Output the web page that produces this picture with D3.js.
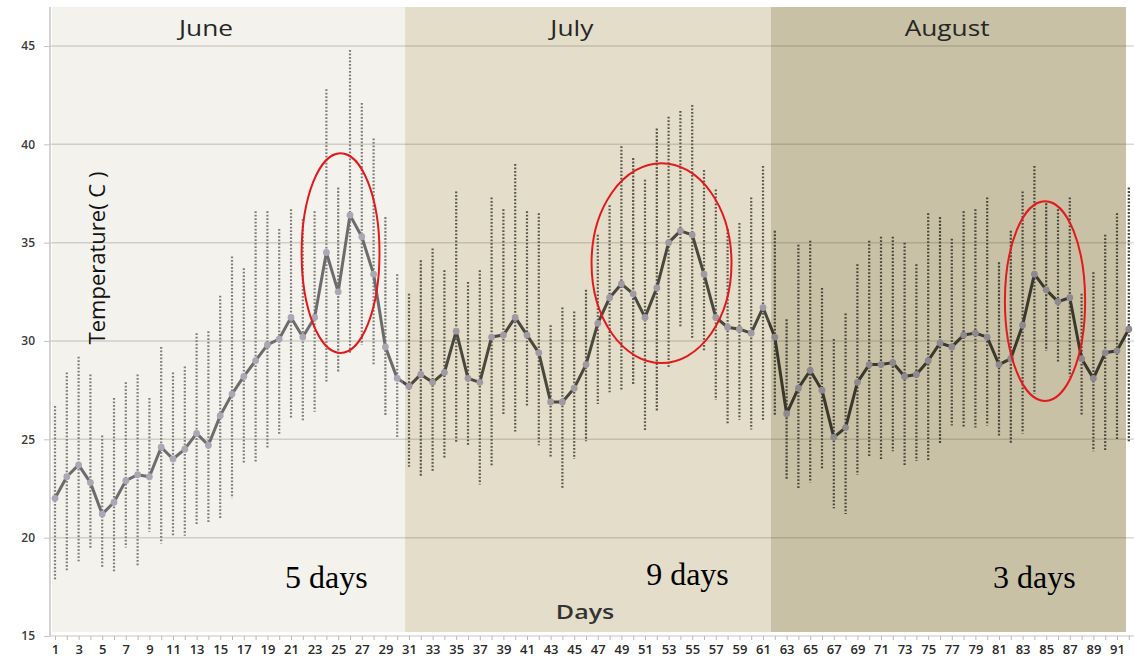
<!DOCTYPE html>
<html>
<head>
<meta charset="utf-8">
<script src="https://cdn.jsdelivr.net/npm/d3@7"></script>
<style>
  body { margin: 0; background: #fff; }
  svg { display: block; }
</style>
</head>
<body>
<script>
// daily values (days 1..92, June to August)
const days = d3.range(1, 93);
const meanTemp = [
  22.0, 23.1, 23.7, 22.8, 21.2, 21.8, 22.9, 23.2, 23.1, 24.6,
  24.0, 24.5, 25.3, 24.7, 26.2, 27.3, 28.2, 29.0, 29.8, 30.1,
  31.2, 30.2, 31.2, 34.5, 32.5, 36.4, 35.3, 33.4, 29.7, 28.1,
  27.7, 28.3, 27.9, 28.4, 30.5, 28.1, 27.9, 30.2, 30.3, 31.2,
  30.3, 29.4, 26.9, 26.9, 27.6, 28.8, 30.9, 32.2, 32.9, 32.4,
  31.2, 32.7, 35.0, 35.6, 35.4, 33.4, 31.2, 30.7, 30.6, 30.4,
  31.7, 30.2, 26.3, 27.6, 28.5, 27.5, 25.1, 25.6, 27.9, 28.8,
  28.8, 28.9, 28.2, 28.3, 29.0, 29.9, 29.7, 30.3, 30.4, 30.2,
  28.8, 29.1, 30.8, 33.4, 32.6, 32.0, 32.2, 29.1, 28.1, 29.4,
  29.5, 30.6
];
const maxTemp = [
  26.7, 28.4, 29.2, 28.3, 25.2, 27.1, 27.9, 28.3, 27.1, 29.7,
  28.4, 28.7, 30.4, 30.5, 32.3, 34.3, 33.7, 36.6, 36.6, 35.7,
  36.7, 36.2, 36.6, 42.8, 37.8, 44.8, 42.1, 40.3, 36.3, 33.4,
  32.4, 34.1, 34.7, 33.6, 37.6, 33.0, 33.6, 37.3, 36.7, 39.0,
  36.6, 36.5, 30.8, 31.7, 31.5, 32.6, 35.4, 36.9, 39.9, 39.3,
  38.2, 40.8, 41.4, 41.7, 42.0, 38.7, 37.7, 35.7, 36.0, 37.3,
  38.9, 35.6, 31.1, 34.9, 35.1, 32.7, 30.1, 31.4, 33.9, 35.1,
  35.3, 35.3, 35.0, 33.9, 36.5, 36.3, 35.2, 36.6, 36.7, 37.3,
  34.0, 35.6, 37.6, 38.9, 37.0, 36.7, 37.3, 32.4, 33.5, 35.4,
  36.5, 37.8
];
const minTemp = [
  17.8, 18.3, 18.8, 19.4, 18.5, 18.2, 19.5, 18.6, 20.3, 19.7,
  20.1, 20.1, 20.7, 20.8, 21.0, 22.0, 23.8, 23.8, 24.5, 25.2,
  26.1, 25.9, 26.4, 27.9, 28.4, 29.4, 29.8, 28.8, 26.2, 25.1,
  23.6, 23.1, 23.4, 24.0, 24.8, 24.7, 22.7, 23.6, 26.2, 25.4,
  26.7, 24.7, 24.1, 22.5, 24.0, 24.9, 26.8, 27.4, 27.5, 27.8,
  25.4, 26.4, 28.6, 30.7, 30.1, 29.5, 27.0, 25.8, 26.0, 25.5,
  26.0, 26.2, 23.0, 22.5, 22.8, 23.5, 21.5, 21.2, 23.2, 24.1,
  24.0, 24.4, 23.7, 23.9, 23.9, 24.8, 25.7, 25.6, 25.6, 25.7,
  25.2, 24.8, 25.3, 27.3, 29.5, 28.9, 28.2, 26.2, 24.4, 24.4,
  25.0, 24.9
];

const monthNames = ["June", "July", "August"];
const monthFirstDay = [1, 31, 62];
const monthLastDay = [30, 61, 92];
const monthLabelDay = [13.8, 44.8, 76.6];

const yTicks = [15, 20, 25, 30, 35, 40, 45];

// red rings round the hot spells and their notes
const spellLabels = ["5 days", "9 days", "3 days"];
const spellLabelDay = [24.0, 54.6, 84.0];
const spellLabelTemp = [17.45, 17.6, 17.45];
const ringDay = [25.2, 52.4, 84.9];
const ringTemp = [34.47, 33.96, 32.03];
const ringHalfDays = [3.3, 5.93, 3.4];
const ringHalfTemp = [5.08, 5.08, 5.08];

// colours per month band
const bandFill = ["#f4f2ec", "#e3ddc9", "#c8c1a6"];
const barColor = ["#7d7d7b", "#5a574c", "#48453a"];
const lineColor = ["#6c6c6c", "#4a473c", "#3a372b"];
const markColor = ["#aba7b5", "#9f9aa3", "#8e8990"];

const width = 1134, height = 665;
const plotLeft = 50, plotTop = 7, plotRight = 1126;
const stretch = 1.25; // the source picture is wider than its text

const x = d3.scaleLinear().domain([1, 91]).range([55, 1117]);
const y = d3.scaleLinear().domain([15, 45]).range([636, 46]);

function monthOf(day) {
  if (day >= monthFirstDay[2]) return 2;
  if (day >= monthFirstDay[1]) return 1;
  return 0;
}

const svg = d3.select("body").append("svg")
  .attr("width", width)
  .attr("height", height);

// month bands
monthNames.forEach((m, i) => {
  const x0 = Math.max(plotLeft + 2, x(monthFirstDay[i] - 0.5) + 2);
  const x1 = Math.min(plotRight, x(monthLastDay[i] + 0.5) + 2);
  svg.append("rect")
    .attr("x", x0)
    .attr("y", plotTop)
    .attr("width", x1 - x0)
    .attr("height", y(15) - 4 - plotTop)
    .attr("fill", bandFill[i]);
});

// horizontal grid
svg.append("g")
  .selectAll("line")
  .data(yTicks)
  .join("line")
  .attr("x1", plotLeft)
  .attr("x2", width)
  .attr("y1", d => y(d))
  .attr("y2", d => y(d))
  .attr("stroke", "rgba(70,65,50,0.2)")
  .attr("stroke-width", 1.5);

// y axis
const yAxis = svg.append("g")
  .attr("transform", `translate(${plotLeft},0)`)
  .call(d3.axisLeft(y).tickValues(yTicks).tickSize(6).tickPadding(9));
yAxis.select(".domain")
  .attr("d", `M0,${plotTop}V${y(15)}`)
  .attr("stroke", "#c4c4c4")
  .attr("stroke-width", 1.5);
yAxis.selectAll(".tick line").attr("stroke", "#c4c4c4");
yAxis.selectAll(".tick text")
  .attr("fill", "#3a3a3a")
  .style("font-family", "'Open Sans', sans-serif")
  .style("font-size", "12px")
  .style("font-weight", "600");

// x axis
const xAxis = svg.append("g")
  .attr("transform", `translate(0,${y(15)})`)
  .call(d3.axisBottom(x)
    .tickValues(days)
    .tickSize(4)
    .tickPadding(5)
    .tickFormat(d => d % 2 === 1 ? d : ""));
xAxis.select(".domain").remove();
xAxis.selectAll(".tick line").attr("stroke", "#b8b8b8");
xAxis.selectAll(".tick text")
  .attr("fill", "#2a2a2a")
  .style("font-family", "'Open Sans', sans-serif")
  .style("font-size", "13px")
  .style("font-weight", "600");

// daily range as dotted bars
svg.append("g")
  .selectAll("line")
  .data(days)
  .join("line")
  .attr("x1", d => x(d))
  .attr("x2", d => x(d))
  .attr("y1", (d, i) => y(maxTemp[i]))
  .attr("y2", (d, i) => y(minTemp[i]))
  .attr("stroke", d => barColor[monthOf(d)])
  .attr("stroke-width", 2.2)
  .attr("stroke-dasharray", "1.8,1.7");

// mean line, coloured per month through a hard-stop gradient
const grad = svg.append("defs").append("linearGradient")
  .attr("id", "lineGrad")
  .attr("gradientUnits", "userSpaceOnUse")
  .attr("x1", 0).attr("x2", width)
  .attr("y1", 0).attr("y2", 0);
monthNames.forEach((m, i) => {
  const a = i === 0 ? 0 : x(monthFirstDay[i] - 0.5) / width;
  const b = i === 2 ? 1 : x(monthLastDay[i] + 0.5) / width;
  grad.append("stop").attr("offset", a).attr("stop-color", lineColor[i]);
  grad.append("stop").attr("offset", b).attr("stop-color", lineColor[i]);
});

const line = d3.line()
  .x((d, i) => x(days[i]))
  .y(d => y(d));

svg.append("path")
  .datum(meanTemp)
  .attr("d", line)
  .attr("fill", "none")
  .attr("stroke", "url(#lineGrad)")
  .attr("stroke-width", 3)
  .attr("stroke-linejoin", "round");

svg.append("g")
  .selectAll("circle")
  .data(meanTemp)
  .join("circle")
  .attr("cx", (d, i) => x(days[i]))
  .attr("cy", d => y(d))
  .attr("r", 3.4)
  .attr("fill", (d, i) => markColor[monthOf(days[i])]);

// month names
svg.append("g")
  .selectAll("text")
  .data(monthNames)
  .join("text")
  .attr("transform", (d, i) => `translate(${x(monthLabelDay[i])},36) scale(${stretch},1)`)
  .attr("text-anchor", "middle")
  .attr("fill", "#262626")
  .style("font-family", "'Open Sans', sans-serif")
  .style("font-size", "21px")
  .text(d => d);

// axis titles
svg.append("text")
  .attr("transform", "translate(105,258) rotate(-90)")
  .attr("text-anchor", "middle")
  .attr("fill", "#111")
  .style("font-family", "'Open Sans', sans-serif")
  .style("font-size", "22px")
  .text("Temperature( C )");

svg.append("text")
  .attr("transform", `translate(585,619) scale(${stretch},1)`)
  .attr("text-anchor", "middle")
  .attr("fill", "#333")
  .style("font-family", "'Open Sans', sans-serif")
  .style("font-size", "20px")
  .style("font-weight", "600")
  .text("Days");

// red rings
svg.append("g")
  .selectAll("ellipse")
  .data(ringDay)
  .join("ellipse")
  .attr("cx", d => x(d))
  .attr("cy", (d, i) => y(ringTemp[i]))
  .attr("rx", (d, i) => x(d + ringHalfDays[i]) - x(d))
  .attr("ry", (d, i) => y(ringTemp[i] - ringHalfTemp[i]) - y(ringTemp[i]))
  .attr("fill", "none")
  .attr("stroke", "#e3191c")
  .attr("stroke-width", 2);

svg.append("g")
  .selectAll("text")
  .data(spellLabels)
  .join("text")
  .attr("x", (d, i) => x(spellLabelDay[i]))
  .attr("y", (d, i) => y(spellLabelTemp[i]))
  .attr("text-anchor", "middle")
  .attr("fill", "#000")
  .style("font-family", "'Liberation Serif', 'Times New Roman', serif")
  .style("font-size", "32px")
  .text(d => d);
</script>
</body>
</html>
